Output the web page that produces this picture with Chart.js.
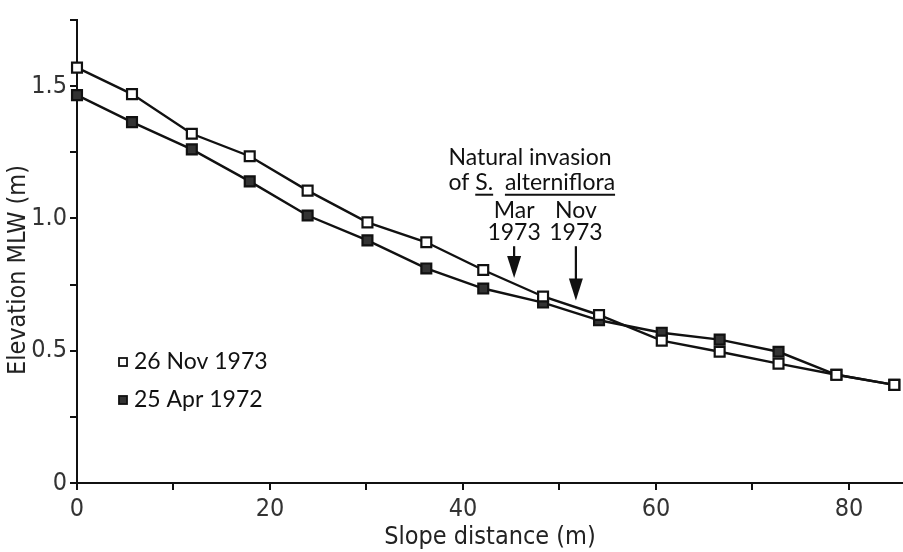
<!DOCTYPE html>
<html>
<head>
<meta charset="utf-8">
<script src="https://cdn.jsdelivr.net/npm/chart.js@4.4.1/dist/chart.umd.min.js"></script>
<style>
html,body{margin:0;padding:0;background:#fff;}
#wrap{width:903px;height:552px;}
</style>
</head>
<body>
<div id="wrap"><canvas id="c" width="903" height="552"></canvas></div>
<script>
// ---- data ----
const distances = [0, 5.7, 11.9, 17.9, 23.9, 30.1, 36.2, 42.1, 48.3, 54.1, 60.6, 66.6, 72.7, 78.7, 84.7];
const nov1973 = [1.57, 1.47, 1.32, 1.235, 1.105, 0.985, 0.91, 0.805, 0.705, 0.635, 0.538, 0.496, 0.451, 0.409, 0.371];
const apr1972 = [1.466, 1.364, 1.261, 1.14, 1.011, 0.917, 0.811, 0.735, 0.682, 0.615, 0.568, 0.542, 0.496, 0.409, 0.371];
const seriesLabels = ['26 Nov 1973', '25 Apr 1972'];
const xTickLabels = [0, 20, 40, 60, 80];
const yTickLabels = ['0', '0.5', '1.0', '1.5'];
const yTitle = 'Elevation MLW (m)';
const xTitle = 'Slope distance (m)';
const annotationLines = ['Natural invasion', 'of S. alterniflora'];
const arrowLabels = ['Mar', 'Nov'];
const arrowYears = ['1973', '1973'];
const arrowX = [45.3, 51.7];
const arrowTipY = [0.775, 0.69];

const tickFont = "'Liberation Sans Narrow', 'DejaVu Sans Condensed', sans-serif";
const textFont = "Lato, 'DejaVu Sans', sans-serif";

const annotationPlugin = {
  id: 'annot',
  afterDatasetsDraw(chart) {
    const ctx = chart.ctx;
    const xs = chart.scales.x, ys = chart.scales.y;
    ctx.save();
    // y axis title
    ctx.save();
    ctx.translate(18, 270);
    ctx.rotate(-Math.PI / 2);
    ctx.font = '25px ' + tickFont;
    ctx.fillStyle = '#222';
    ctx.textAlign = 'center';
    ctx.textBaseline = 'middle';
    ctx.fillText(yTitle, 0, 0);
    ctx.restore();

    ctx.fillStyle = '#111';
    ctx.strokeStyle = '#111';
    ctx.font = '23px ' + textFont;
    ctx.textBaseline = 'middle';
    ctx.textAlign = 'left';
    const left = xs.getPixelForValue(38.5);
    ctx.fillText(annotationLines[0], left, ys.getPixelForValue(1.23));
    const y2 = ys.getPixelForValue(1.135);
    const parts = ['of ', 'S.', '  ', 'alterniflora'];
    let cx = left;
    parts.forEach((p, i) => {
      const w = ctx.measureText(p).width;
      ctx.fillText(p, cx, y2);
      if (i === 1 || i === 3) {
        ctx.lineWidth = 2;
        ctx.beginPath();
        ctx.moveTo(cx, y2 + 12);
        ctx.lineTo(cx + w, y2 + 12);
        ctx.stroke();
      }
      cx += w;
    });
    ctx.textAlign = 'center';
    for (let i = 0; i < arrowX.length; i++) {
      const ax = xs.getPixelForValue(arrowX[i]);
      ctx.fillText(arrowLabels[i], ax, ys.getPixelForValue(1.03));
      ctx.fillText(arrowYears[i], ax, ys.getPixelForValue(0.945));
      const top = ys.getPixelForValue(0.895);
      const tip = ys.getPixelForValue(arrowTipY[i]);
      ctx.lineWidth = 2.2;
      ctx.beginPath();
      ctx.moveTo(ax, top);
      ctx.lineTo(ax, tip - 12);
      ctx.stroke();
      ctx.beginPath();
      ctx.moveTo(ax - 7, tip - 22);
      ctx.lineTo(ax + 7, tip - 22);
      ctx.lineTo(ax, tip);
      ctx.closePath();
      ctx.fill();
    }
    ctx.textAlign = 'left';
    const ds = chart.data.datasets;
    const lx = 123;
    const lys = [362, 400];
    ds.forEach((d, i) => {
      const y = lys[i];
      ctx.fillStyle = d.pointBackgroundColor;
      ctx.fillRect(lx - 4, y - 4, 8, 8);
      ctx.lineWidth = 1.8;
      ctx.strokeStyle = '#111';
      ctx.strokeRect(lx - 4, y - 4, 8, 8);
      ctx.fillStyle = '#111';
      ctx.fillText(d.label, lx + 11, y);
    });
    ctx.restore();
  }
};

const mk = (vals) => distances.map((x, i) => ({x, y: vals[i]}));

const chart = new Chart(document.getElementById('c'), {
  type: 'line',
  data: {
    datasets: [
      {label: seriesLabels[0], data: mk(nov1973), borderColor: '#111', borderWidth: 2.4,
       pointStyle: 'rect', pointRadius: 7, pointHoverRadius: 7, pointBackgroundColor: '#ffffff',
       pointBorderColor: '#111', pointBorderWidth: 2.2, tension: 0, order: 0, clip: false},
      {label: seriesLabels[1], data: mk(apr1972), borderColor: '#111', borderWidth: 2.4,
       pointStyle: 'rect', pointRadius: 7, pointHoverRadius: 7, pointBackgroundColor: '#333333',
       pointBorderColor: '#111', pointBorderWidth: 2.2, tension: 0, order: 1, clip: false}
    ]
  },
  options: {
    responsive: false,
    devicePixelRatio: 1,
    animation: false,
    layout: {padding: {top: 20, right: 0, left: 0, bottom: 0}},
    plugins: {legend: {display: false}, tooltip: {enabled: false}},
    scales: {
      x: {
        type: 'linear', min: 0, max: 85.6,
        afterFit: (s) => { s.height = 69; s.paddingRight = 0; s.paddingLeft = 0; },
        border: {display: true, color: '#111', width: 2},
        grid: {drawOnChartArea: false, drawTicks: true, tickLength: 7, tickColor: '#111', lineWidth: 2},
        ticks: {stepSize: 10, includeBounds: false, color: '#333', padding: 4, maxRotation: 0, autoSkip: false,
          font: {family: tickFont, size: 25},
          callback: (v) => xTickLabels.includes(Math.round(v)) ? String(Math.round(v)) : ''},
        title: {display: true, text: xTitle, color: '#222',
          font: {family: tickFont, size: 25}, padding: {top: 0, bottom: 0}}
      },
      y: {
        type: 'linear', min: 0, max: 1.75,
        afterFit: (s) => { s.width = 77; s.paddingTop = 0; s.paddingBottom = 0; },
        border: {display: true, color: '#111', width: 2},
        grid: {drawOnChartArea: false, drawTicks: true, tickLength: 7, tickColor: '#111', lineWidth: 2},
        ticks: {stepSize: 0.25, color: '#333', padding: 3, autoSkip: false,
          font: {family: tickFont, size: 25},
          callback: (v) => {
            const r = Math.round(v * 100) / 100;
            if (r === 0) return yTickLabels[0];
            if (r === 0.5) return yTickLabels[1];
            if (r === 1) return yTickLabels[2];
            if (r === 1.5) return yTickLabels[3];
            return '';
          }},
        title: {display: false}
      }
    }
  },
  plugins: [annotationPlugin]
});
// let the plot area reach the right edge of the canvas, as in the reference
chart.data.datasets.forEach((d, i) => {
  chart.getDatasetMeta(i).controller.getMaxOverflow = () => 0;
});
chart.update();
</script>
</body>
</html>
